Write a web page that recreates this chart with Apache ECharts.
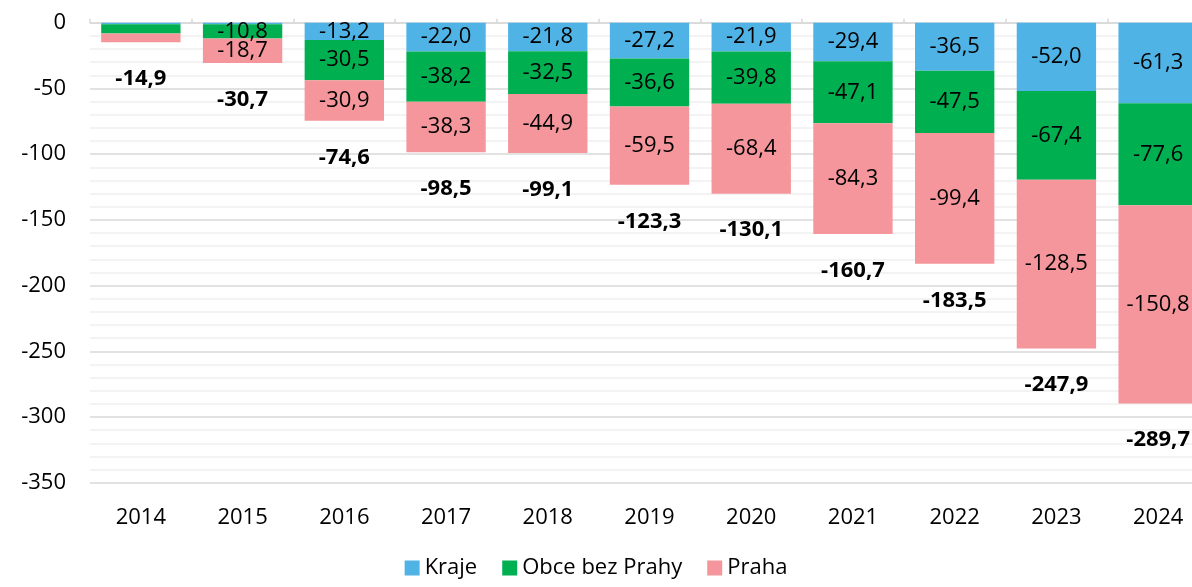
<!DOCTYPE html>
<html>
<head>
<meta charset="utf-8">
<script src="https://cdn.jsdelivr.net/npm/echarts@6/dist/echarts.min.js"></script>
<style>
html,body{margin:0;padding:0;background:#fff;}
#chart{width:1192px;height:587px;}
</style>
</head>
<body>
<div id="chart"></div>
<script>
const categories = ['2014','2015','2016','2017','2018','2019','2020','2021','2022','2023','2024'];
const kraje = [-1.2, -1.2, -13.2, -22.0, -21.8, -27.2, -21.9, -29.4, -36.5, -52.0, -61.3];
const obce  = [-7.0, -10.8, -30.5, -38.2, -32.5, -36.6, -39.8, -47.1, -47.5, -67.4, -77.6];
const praha = [-6.7, -18.7, -30.9, -38.3, -44.9, -59.5, -68.4, -84.3, -99.4, -128.5, -150.8];
const totals = [-14.9, -30.7, -74.6, -98.5, -99.1, -123.3, -130.1, -160.7, -183.5, -247.9, -289.7];
const yTicks = [0, -50, -100, -150, -200, -250, -300, -350];

const FONT = '"Open Sans", "Noto Sans", sans-serif';
const fmt = v => v.toFixed(1).replace('.', ',');

function barData(arr) {
  return arr.map(v => ({
    value: v,
    label: { show: Math.abs(v) >= 8 }
  }));
}

const innerLabel = {
  show: true,
  position: 'inside',
  color: '#000',
  fontFamily: FONT,
  fontSize: 22,
  formatter: p => fmt(p.value)
};

const chart = echarts.init(document.getElementById('chart'), null, {renderer: 'canvas'});
chart.setOption({
  backgroundColor: '#fff',
  animation: false,
  grid: { left: 90, width: 1119, top: 22.7, height: 460, containLabel: false, outerBoundsMode: 'none' },
  legend: {
    bottom: 3,
    left: 'center',
    itemWidth: 15,
    itemHeight: 15,
    itemGap: 25,
    icon: 'rect',
    textStyle: { fontFamily: FONT, fontSize: 22, color: '#000' },
    data: ['Kraje', 'Obce bez Prahy', 'Praha']
  },
  xAxis: [
    {
      type: 'category',
      data: categories,
      position: 'top',
      axisLine: { show: true, lineStyle: { color: '#d9d9d9', width: 1.5 } },
      axisTick: { show: true, length: 4, lineStyle: { color: '#d9d9d9', width: 1.5 } },
      axisLabel: { show: false },
      splitLine: { show: false }
    },
    {
      type: 'category',
      data: categories,
      position: 'bottom',
      axisLine: { show: false },
      axisTick: { show: false },
      axisLabel: { show: true, margin: 24, fontFamily: FONT, fontSize: 22, color: '#000' }
    }
  ],
  yAxis: {
    type: 'value',
    min: yTicks[yTicks.length - 1],
    max: yTicks[0],
    interval: 50,
    axisLine: { show: false },
    axisTick: { show: false },
    axisLabel: { margin: 24, fontFamily: FONT, fontSize: 22, color: '#000', formatter: v => String(v) },
    splitLine: { show: true, lineStyle: { color: '#d9d9d9', width: 1.5 } },
    minorTick: { show: false, splitNumber: 5 },
    minorSplitLine: { show: true, lineStyle: { color: '#f0f0f0', width: 1.5 } }
  },
  series: [
    {
      name: 'Kraje', type: 'bar', stack: 'total', xAxisIndex: 0,
      barCategoryGap: '22%',
      itemStyle: { color: '#4fb3e6' },
      label: innerLabel,
      data: barData(kraje)
    },
    {
      name: 'Obce bez Prahy', type: 'bar', stack: 'total', xAxisIndex: 0,
      barCategoryGap: '22%',
      itemStyle: { color: '#00b050' },
      label: innerLabel,
      data: barData(obce)
    },
    {
      name: 'Praha', type: 'bar', stack: 'total', xAxisIndex: 0,
      barCategoryGap: '22%',
      itemStyle: { color: '#f4969b' },
      label: innerLabel,
      data: barData(praha)
    },
    {
      name: 'Celkem', type: 'line', xAxisIndex: 0,
      data: totals,
      symbol: 'circle',
      symbolSize: 1,
      showSymbol: true,
      itemStyle: { color: 'rgba(0,0,0,0)' },
      lineStyle: { opacity: 0 },
      silent: true,
      z: 10,
      label: {
        show: true,
        position: 'bottom',
        distance: 25,
        color: '#000',
        fontFamily: FONT,
        fontSize: 22,
        fontWeight: 'bold',
        formatter: p => fmt(p.value)
      }
    }
  ]
});
</script>
</body>
</html>
